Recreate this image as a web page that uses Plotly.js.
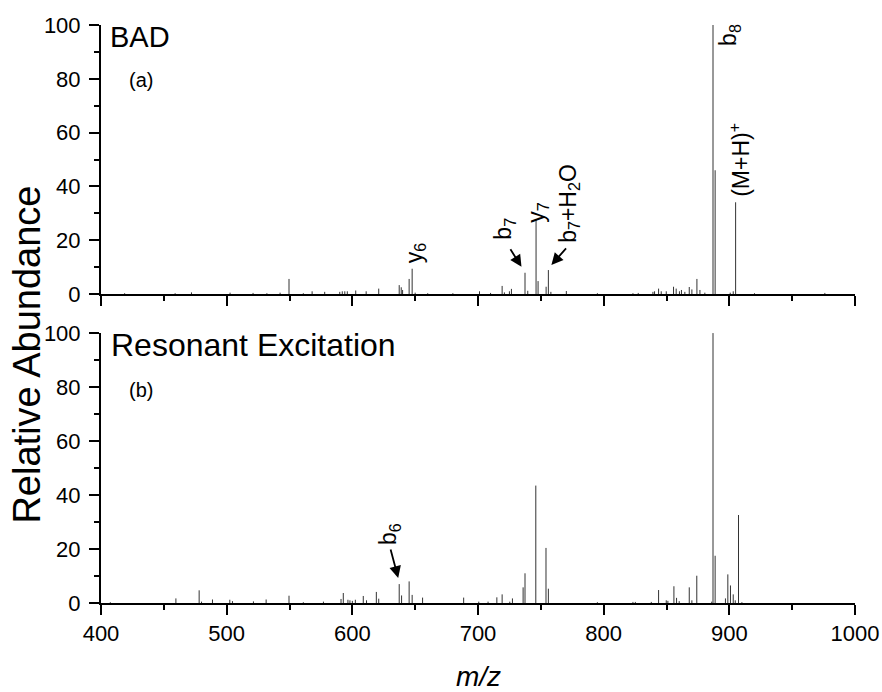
<!DOCTYPE html>
<html>
<head>
<meta charset="utf-8">
<script src="https://cdn.plot.ly/plotly-3.0.1.min.js"></script>
<style>html,body{margin:0;padding:0;background:#fff;}#plot{width:882px;height:692px;}</style>
</head>
<body>
<div id="plot"></div>
<script>
// (a) BAD spectrum: m/z and relative abundance
const mzBAD = [418.8, 459, 472, 502.7, 521, 532, 542.5, 549.6, 561, 568, 578, 590, 592, 594, 596, 602.7, 611, 621,
  637.3, 638.9, 640, 645.2, 647.6, 650, 660, 680, 701.2, 710, 719.2, 721, 725, 726.6, 737.4, 739.6, 746.2, 747.8,
  754.2, 756.0, 758, 770.3, 795, 823.3, 827.5, 839.2, 840.5, 843.7, 845.8, 849.8, 855.6, 857.7, 860.3, 861.9, 864.6,
  868.1, 870.2, 874.2, 876.6, 880.5, 887, 888.7, 900.7, 903.1, 905, 920, 976];
const intBAD = [0.3, 0.3, 0.6, 0.5, 0.4, 0.3, 0.5, 5.6, 0.3, 1.0, 0.8, 0.8, 1.0, 1.0, 1.0, 1.3, 1.0, 2.0,
  3.3, 2.5, 1.5, 5.6, 9.4, 0.5, 0.3, 0.3, 1.0, 0.4, 3.0, 0.6, 1.0, 1.9, 7.9, 1.2, 27.5, 4.8,
  2.7, 8.9, 0.8, 1.1, 0.3, 0.3, 0.4, 0.8, 1.0, 2.0, 1.0, 1.0, 2.7, 2.0, 1.0, 1.5, 0.8,
  2.6, 1.7, 5.6, 1.5, 0.5, 100, 46, 0.5, 1.0, 34.1, 0.3, 0.4];

// (b) Resonant excitation spectrum
const mzRE = [407.4, 459.6, 478.1, 480, 488.7, 502.5, 504.6, 521.3, 531.4, 549.6, 561, 577, 591, 592.8, 596.5, 598.1,
  600, 602.4, 608.7, 611.3, 619.1, 621, 637.3, 639.2, 645.2, 647.6, 655.9, 688.6, 700.6, 708, 715, 719.2, 725.3,
  727.4, 735.9, 737.4, 746, 754.1, 756, 795, 823.3, 825.2, 837.9, 843.7, 849.8, 851.1, 855.9, 858, 860.1, 868.1,
  870.2, 874.1, 886, 887, 888.7, 896.9, 898.8, 900.9, 903.1, 904.7, 907.3, 910];
const intRE = [0.3, 1.7, 4.7, 0.5, 1.3, 1.2, 0.7, 0.6, 1.3, 2.7, 0.3, 0.5, 1.5, 3.7, 1.2, 1.0,
  0.8, 1.2, 2.6, 1.0, 4.1, 1.6, 7.0, 2.8, 8.0, 3.0, 2.0, 2.0, 0.5, 0.5, 2.1, 3.2, 0.5,
  1.7, 5.8, 11.0, 43.5, 20.4, 5.3, 0.3, 0.4, 0.4, 0.4, 4.8, 1.0, 0.8, 6.2, 1.9, 0.7, 5.8,
  1.0, 10.1, 0.5, 100, 17.5, 1.7, 10.6, 6.5, 3.2, 1.0, 32.6, 0.3];

const xTicks = [400, 500, 600, 700, 800, 900, 1000];
const yTicks = [0, 20, 40, 60, 80, 100];

function sticks(mz, inten) {
  const xs = [], ys = [];
  for (let i = 0; i < mz.length; i++) {
    xs.push(mz[i], mz[i], null);
    ys.push(0, inten[i], null);
  }
  return {xs, ys};
}
const sA = sticks(mzBAD, intBAD);
const sB = sticks(mzRE, intRE);

const FONT = 'Arial, "Liberation Sans", Helvetica, sans-serif';

const traces = [
  {x: sA.xs, y: sA.ys, type: 'scatter', mode: 'lines', line: {color: '#333', width: 1},
   xaxis: 'x', yaxis: 'y', hoverinfo: 'skip', showlegend: false, connectgaps: false},
  {x: sB.xs, y: sB.ys, type: 'scatter', mode: 'lines', line: {color: '#333', width: 1},
   xaxis: 'x2', yaxis: 'y2', hoverinfo: 'skip', showlegend: false, connectgaps: false}
];

function xax(showLabels, anchor) {
  return {
    range: [400, 1000], anchor: anchor, showgrid: false, zeroline: false,
    showline: true, linecolor: '#000', linewidth: 2,
    ticks: 'outside', ticklen: 10, tickwidth: 2, tickcolor: '#000',
    tickvals: xTicks, ticktext: xTicks.map(String), showticklabels: showLabels,
    minor: {dtick: 50, tick0: 400, ticks: 'outside', ticklen: 5, tickwidth: 2, tickcolor: '#000', showgrid: false},
    tickfont: {family: FONT, size: 22, color: '#000'}
  };
}
function yax(domain, anchor) {
  return {
    range: [0, 100], domain: domain, anchor: anchor, showgrid: false, zeroline: false,
    showline: true, linecolor: '#000', linewidth: 2,
    ticks: 'outside', ticklen: 10, tickwidth: 2, tickcolor: '#000',
    tickvals: yTicks, ticktext: yTicks.map(String), ticklabelstandoff: 4,
    minor: {dtick: 10, tick0: 0, ticks: 'outside', ticklen: 5, tickwidth: 2, tickcolor: '#000', showgrid: false},
    tickfont: {family: FONT, size: 22, color: '#000'}
  };
}

const lab = (x, y, yref, text) => ({x: x, y: y, xref: yref === 'y' ? 'x' : 'x2', yref: yref, text: text,
  textangle: -90, showarrow: false, xanchor: 'center', yanchor: 'middle',
  font: {family: FONT, size: 23, color: '#000'}});
const arr = (x, y, yref, ax, ay) => ({x: x, y: y, xref: yref === 'y' ? 'x' : 'x2', yref: yref, text: '',
  showarrow: true, ax: ax, ay: ay, arrowhead: 2, arrowsize: 1.3, arrowwidth: 1.8, arrowcolor: '#000', standoff: 0});

const annotations = [
  {x: 0.009, y: 0.979, xref: 'paper', yref: 'paper', text: 'BAD', showarrow: false, xanchor: 'left', yanchor: 'middle',
   font: {family: FONT, size: 29, color: '#000'}},
  {x: 0.035, y: 0.905, xref: 'paper', yref: 'paper', text: '(a)', showarrow: false, xanchor: 'left', yanchor: 'middle',
   font: {family: FONT, size: 20, color: '#000'}},
  {x: 0.011, y: 0.4464, xref: 'paper', yref: 'paper', text: 'Resonant Excitation', showarrow: false, xanchor: 'left', yanchor: 'middle',
   font: {family: FONT, size: 32, color: '#000'}},
  {x: 0.035, y: 0.3685, xref: 'paper', yref: 'paper', text: '(b)', showarrow: false, xanchor: 'left', yanchor: 'middle',
   font: {family: FONT, size: 20, color: '#000'}},
  {x: -0.098, y: 0.43, xref: 'paper', yref: 'paper', text: 'Relative Abundance', textangle: -90, showarrow: false,
   xanchor: 'center', yanchor: 'middle', font: {family: FONT, size: 38, color: '#000'}},
  {x: 0.5, y: -0.127, xref: 'paper', yref: 'paper', text: '<i>m/z</i>', showarrow: false,
   xanchor: 'center', yanchor: 'middle', font: {family: FONT, size: 28, color: '#000'}},
  lab(900.1, 96.5, 'y', 'b<sub>8</sub>'),
  lab(908.3, 49.8, 'y', '(M+H)<sup>+</sup>'),
  lab(747.6, 30.5, 'y', 'y<sub>7</sub>'),
  lab(772.2, 33.8, 'y', 'b<sub>7</sub>+H<sub>2</sub>O'),
  lab(721.3, 24.2, 'y', 'b<sub>7</sub>'),
  lab(649.8, 15.5, 'y', 'y<sub>6</sub>'),
  lab(630, 25.6, 'y2', 'b<sub>6</sub>'),
  arr(734.6, 10.1, 'y', -12, -19),
  arr(758.4, 10.8, 'y', 16, -18),
  arr(636.5, 9.3, 'y2', -8, -30)
];

const layout = {
  width: 882, height: 692,
  margin: {l: 101, r: 27, t: 25, b: 89},
  paper_bgcolor: '#fff', plot_bgcolor: '#fff',
  showlegend: false,
  xaxis: xax(false, 'y'),
  yaxis: yax([0.5346, 1], 'x'),
  xaxis2: xax(true, 'y2'),
  yaxis2: yax([0, 0.467], 'x2'),
  annotations: annotations
};

Plotly.newPlot('plot', traces, layout, {staticPlot: true, displayModeBar: false});
</script>
</body>
</html>
